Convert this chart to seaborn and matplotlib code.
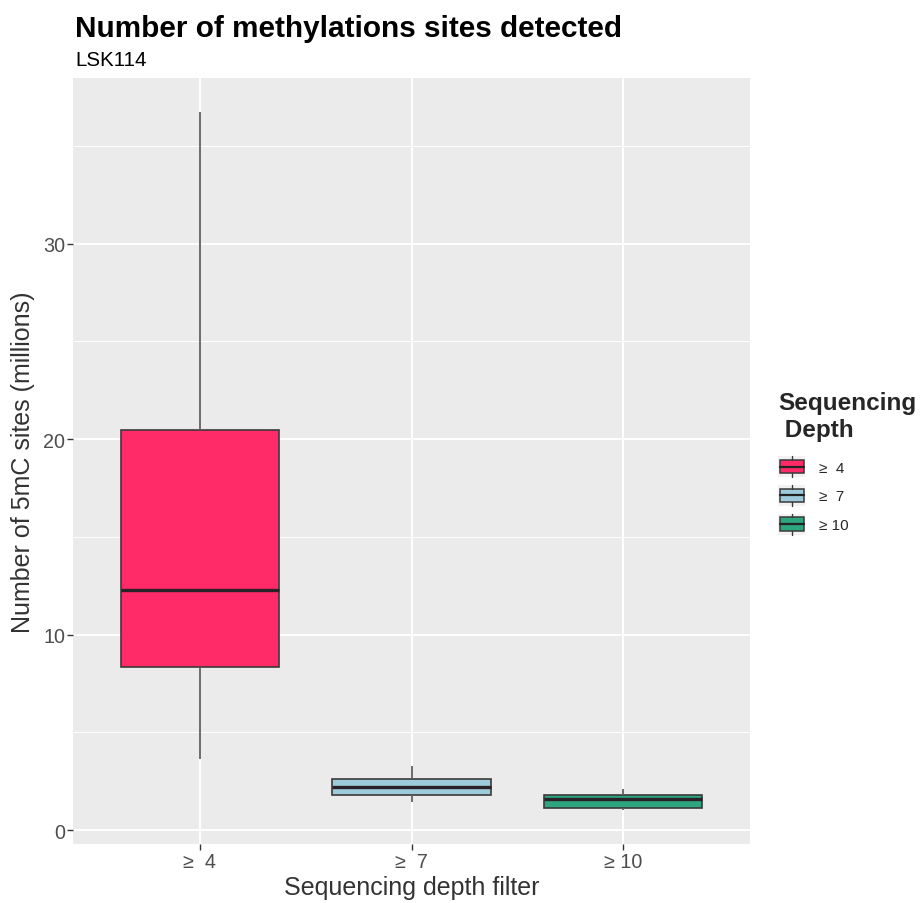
import matplotlib
matplotlib.use("Agg")
import matplotlib.pyplot as plt
import seaborn as sns
import pandas as pd
from matplotlib.legend_handler import HandlerBase
from matplotlib.patches import Rectangle
from matplotlib.lines import Line2D

# ---- data (millions of 5mC sites) ----
depth_labels = ["\u2265  4", "\u2265  7", "\u2265 10"]
tick_labels = ["\u2265  4", "\u2265  7", "\u2265 10"]
whisker_low = [3.63, 1.43, 1.03]
q1_vals = [8.34, 1.79, 1.15]
median_vals = [12.29, 2.22, 1.61]
q3_vals = [20.46, 2.61, 1.79]
whisker_high = [36.71, 3.25, 2.10]
colors = ["#FF2A67", "#9ECBDB", "#2DA57E"]

rows = []
for i, lab in enumerate(depth_labels):
    for v in (whisker_low[i], q1_vals[i], median_vals[i], q3_vals[i], whisker_high[i]):
        rows.append({"depth": lab, "sites": v})
df = pd.DataFrame(rows)

sns.set_theme(style="darkgrid")
plt.rcParams["font.family"] = ["Liberation Sans", "DejaVu Sans"]

fig = plt.figure(figsize=(9.21, 9.04), dpi=100)
ax = fig.add_axes([73 / 921, 1 - 845 / 904, (750 - 73) / 921, (845 - 79) / 904])
ax.set_facecolor("#EBEBEB")

sns.boxplot(data=df, x="depth", y="sites", hue="depth", order=depth_labels,
            hue_order=depth_labels, palette=colors, saturation=1, width=0.75,
            whis=(0, 100), linecolor="#3A3A3A", linewidth=1.2, showcaps=False,
            legend=False,
            medianprops=dict(color="#2A2028", linewidth=2.4),
            whiskerprops=dict(color="#606060", linewidth=1.3),
            ax=ax, zorder=3)

ax.set_xlim(-0.6, 2.6)
ax.set_ylim(-0.716, 38.47)
ax.set_yticks([0, 10, 20, 30])
ax.set_yticks([5, 15, 25, 35], minor=True)
ax.set_xticks([0, 1, 2])
ax.set_xticklabels(tick_labels)
ax.grid(which="major", color="white", linewidth=1.4, zorder=0)
ax.grid(which="minor", axis="y", color="white", linewidth=0.7, zorder=0)
ax.set_axisbelow(True)
for s in ax.spines.values():
    s.set_visible(False)
ax.tick_params(axis="both", which="major", length=4, width=1, color="#333333",
               labelcolor="#4D4D4D", labelsize=14.2, pad=1.5, left=True, bottom=True)
ax.tick_params(axis="both", which="minor", length=0)
ax.set_xlabel("Sequencing depth filter", fontsize=18, color="#333333", labelpad=3)
ax.set_ylabel("Number of 5mC sites (millions)", fontsize=18, color="#333333", labelpad=6)

fig.text(75 / 921, 1 - 29 / 904, "Number of methylations sites detected",
         fontsize=21.4, fontweight="bold", color="black", va="center", ha="left")
fig.text(75 / 921, 1 - 61 / 904, "LSK114", fontsize=14.8, color="black",
         va="center", ha="left")


class BoxHandler(HandlerBase):
    def __init__(self, color):
        super().__init__()
        self.color = color

    def create_artists(self, legend, orig_handle, xdescent, ydescent, width,
                       height, fontsize, trans):
        x0, y0 = -xdescent, -ydescent
        bg = Rectangle((x0, y0), width, height, facecolor="#F2F2F2",
                       edgecolor="none", transform=trans)
        bh = height * 0.64
        by = y0 + (height - bh) / 2
        box = Rectangle((x0 + width * 0.05, by), width * 0.9, bh,
                        facecolor=self.color, edgecolor="#3A3A3A", lw=1.1,
                        transform=trans)
        cx = x0 + width / 2
        w1 = Line2D([cx, cx], [y0, by], color="#3A3A3A", lw=1.0, transform=trans)
        w2 = Line2D([cx, cx], [by + bh, y0 + height], color="#3A3A3A", lw=1.0,
                    transform=trans)
        med = Line2D([x0 + width * 0.05, x0 + width * 0.95],
                     [y0 + height / 2, y0 + height / 2], color="#222222",
                     lw=1.6, transform=trans)
        return [bg, box, w1, w2, med]


handles = [Rectangle((0, 0), 1, 1) for _ in depth_labels]
handler_map = {h: BoxHandler(c) for h, c in zip(handles, colors)}
leg = fig.legend(handles, depth_labels, handler_map=handler_map,
                 loc="upper left", bbox_to_anchor=(766 / 921, 1 - 380 / 904),
                 frameon=False, fontsize=11, title="Sequencing\n Depth",
                 title_fontproperties={"weight": "bold", "size": 17.5},
                 handlelength=1.75, handleheight=1.75, labelspacing=0.5,
                 handletextpad=0.9, borderpad=0.3)
leg._legend_box.align = "left"
leg._legend_box.sep = 11

fig.savefig("out.png", dpi=100)
